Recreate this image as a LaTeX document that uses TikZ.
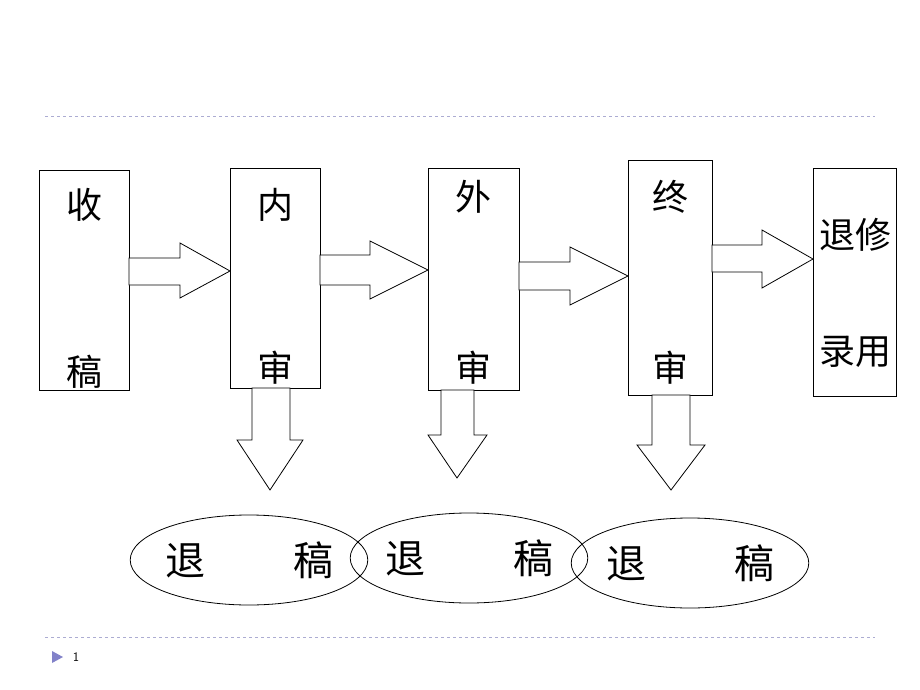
\documentclass[tikz,border=0pt]{standalone}
\usepackage{fontspec}
\newfontfamily\cjk{Noto Sans CJK SC}
\usetikzlibrary{shapes.geometric}
\begin{document}
\begin{tikzpicture}[x=1pt,y=-1pt,
 box/.style={draw,line width=0.8pt},
 blk/.style={draw,line width=0.8pt,fill=white},
 txt/.style={font=\cjk\fontsize{36}{36}\selectfont,inner sep=0},
 ell/.style={draw,ellipse,line width=0.8pt,minimum width=200,minimum height=90,inner sep=0,font=\cjk\fontsize{40}{40}\selectfont},
 sepline/.style={draw=gray!70!blue!50,dashed,line width=0.6pt}]
\useasboundingbox (0,0) rectangle (920,690);
\draw[sepline] (45,116) -- (875,116);
\draw[sepline] (45,637) -- (875,637);
\fill[gray!60!blue!70] (52,651) -- (63,657) -- (52,663) -- cycle;
\node[font=\sffamily\fontsize{13}{13}\selectfont] (pg) at (76,657) {1};
% boxes
\draw[box] (39,170) rectangle (129,390);
\draw[box] (230,168) rectangle (320,388);
\draw[box] (428,168) rectangle (519,390);
\draw[box] (628,160) rectangle (712,395);
\draw[box] (813,168) rectangle (896,396);
\node[txt] (a1) at (84,205) {收}; \node[txt] (a2) at (84,372) {稿};
\node[txt] (b1) at (275,205) {内}; \node[txt] (b2) at (275,368) {审};
\node[txt] (c1) at (473,197) {外}; \node[txt] (c2) at (473,368) {审};
\node[txt] (d1) at (670,197) {终}; \node[txt] (d2) at (670,368) {审};
\node[txt] (e1) at (855,235) {退修}; \node[txt] (e2) at (855,352) {录用};
% right arrows
\draw[blk] (129,258) -- (180,258) -- (180,243) -- (230,271) -- (180,298) -- (180,285) -- (129,285) -- cycle;
\draw[blk] (320,255) -- (370,255) -- (370,241) -- (428,270) -- (370,299) -- (370,285) -- (320,285) -- cycle;
\draw[blk] (519,262) -- (570,262) -- (570,247) -- (628,276) -- (570,305) -- (570,290) -- (519,290) -- cycle;
\draw[blk] (712,245) -- (762,245) -- (762,230) -- (813,259) -- (762,288) -- (762,272) -- (712,272) -- cycle;
% down arrows
\draw[blk] (252,388) -- (252,440) -- (237,440) -- (270,490) -- (303,440) -- (290,440) -- (290,388) -- cycle;
\draw[blk] (441,390) -- (441,435) -- (428,435) -- (457,478) -- (487,435) -- (474,435) -- (474,390) -- cycle;
\draw[blk] (652,395) -- (652,445) -- (637,445) -- (671,490) -- (705,445) -- (690,445) -- (690,395) -- cycle;
% ellipses
\node[ell] (r1) at (249,560) {退\hspace{88pt}稿};
\node[ell] (r2) at (469,558) {退\hspace{88pt}稿};
\node[ell] (r3) at (690,563) {退\hspace{88pt}稿};
\end{tikzpicture}
\end{document}
